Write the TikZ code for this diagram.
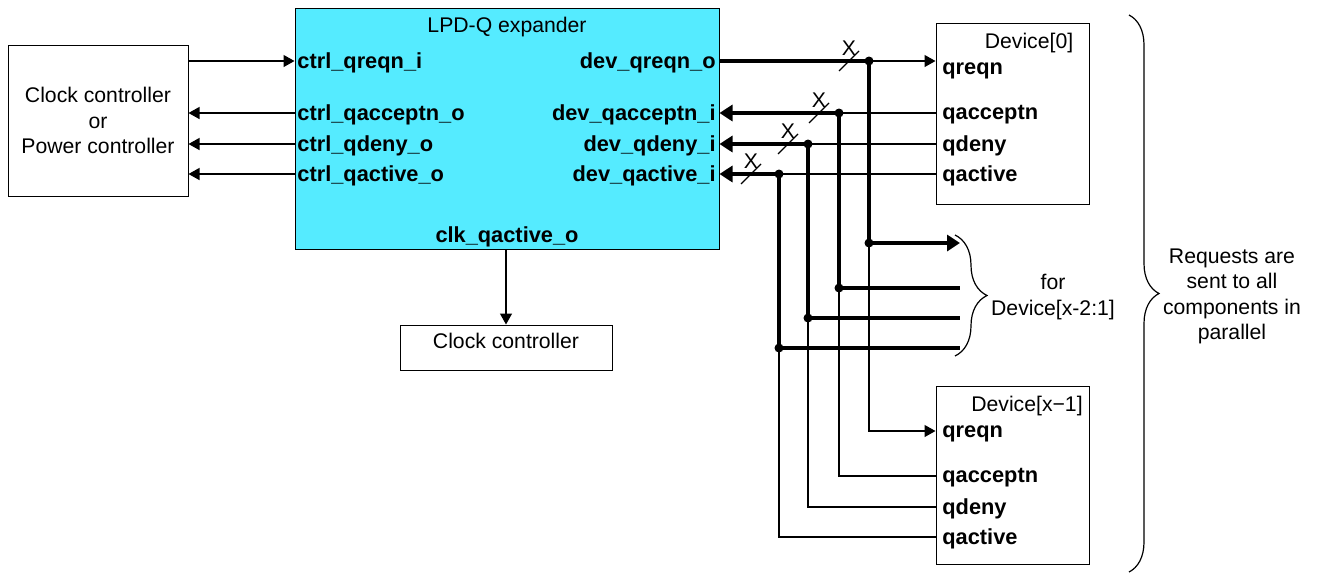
\documentclass[tikz,border=0pt]{standalone}
\usepackage{fontspec}
\setmainfont{Liberation Sans}
\usetikzlibrary{arrows.meta,calc,decorations.pathreplacing}
\definecolor{lpdcyan}{RGB}{85,235,255}

\tikzset{
	blk/.style={draw, line width=0.5pt, inner sep=0pt, align=center},
	port/.style={font=\fontsize{10.9}{13}\selectfont\bfseries, inner sep=0pt},
	wire/.style={line width=0.65pt},
	bus/.style={line width=2.2pt},
	tip/.style={-{Triangle[length=5.5pt,width=6pt]}},
	bustip/.style={-{Triangle[length=6.5pt,width=8pt]}},
	jdot/.style={circle, fill, inner sep=0pt, minimum size=4.5pt},
	brc/.style={decorate, line width=0.6pt},
}

\begin{document}
\begin{tikzpicture}[x=0.5pt, y=-0.5pt, font=\fontsize{10.6}{12.75}\selectfont]
	\useasboundingbox (0,0) rectangle (1317,574);

	% blocks
	\node[blk, minimum width=90pt, minimum height=75.5pt] (pwr) at (98,120.5) {Clock controller\\or\\Power controller};
	\node[blk, fill=lpdcyan, minimum width=212pt, minimum height=120.5pt] (lpd) at (507,128.5) {};
	\node[blk, minimum width=106pt, minimum height=22.5pt, text depth=7pt] (clk) at (506,347.5) {Clock controller};
	\node[blk, minimum width=76.5pt, minimum height=90.5pt] (dz) at (1012.5,113.5) {};
	\node[blk, minimum width=76.5pt, minimum height=89pt] (dl) at (1012.5,475) {};

	\node at (507,27) {LPD-Q expander};
	\node at (1029,43) {Device[0]};
	\node at (1027,406) {Device[x−1]};

	% expander ports
	\node[port, anchor=west] (cqreqn) at (297,63) {ctrl\_qreqn\_i};
	\node[port, anchor=west] (cqacc) at (297,115) {ctrl\_qacceptn\_o};
	\node[port, anchor=west] (cqdeny) at (297,146) {ctrl\_qdeny\_o};
	\node[port, anchor=west] (cqact) at (297,176) {ctrl\_qactive\_o};
	\node[port, anchor=east] (dqreqn) at (716,63) {dev\_qreqn\_o};
	\node[port, anchor=east] (dqacc) at (716,115) {dev\_qacceptn\_i};
	\node[port, anchor=east] (dqdeny) at (716,146) {dev\_qdeny\_i};
	\node[port, anchor=east] (dqact) at (716,176) {dev\_qactive\_i};
	\node[port] (kqact) at (507,237) {clk\_qactive\_o};

	% device ports
	\node[port, anchor=west] (zreqn) at (942,71) {qreqn};
	\node[port, anchor=west] (zacc) at (942,115) {qacceptn};
	\node[port, anchor=west] (zdeny) at (942,146) {qdeny};
	\node[port, anchor=west] (zact) at (942,176) {qactive};
	\node[port, anchor=west] (lreqn) at (942,434) {qreqn};
	\node[port, anchor=west] (lacc) at (942,478) {qacceptn};
	\node[port, anchor=west] (ldeny) at (942,509) {qdeny};
	\node[port, anchor=west] (lact) at (942,539) {qactive};

	% bus corners
	\coordinate (j1) at (869,61);  \coordinate (b1) at (869,243); \coordinate (f1) at (960,243);
	\coordinate (j2) at (839,113); \coordinate (b2) at (839,288); \coordinate (f2) at (960,288);
	\coordinate (j3) at (808,144); \coordinate (b3) at (808,318); \coordinate (f3) at (960,318);
	\coordinate (j4) at (779,174); \coordinate (b4) at (779,348); \coordinate (f4) at (960,348);
	\coordinate (k1) at (869,431); \coordinate (k2) at (839,476);
	\coordinate (k3) at (808,507); \coordinate (k4) at (779,537);

	% controller side
	\draw[wire, tip] (pwr.east |- j1) -- (lpd.west |- j1);
	\path[wire, tip]
	(lpd.west |- j2) edge (pwr.east |- j2)
	(lpd.west |- j3) edge (pwr.east |- j3)
	(lpd.west |- j4) edge (pwr.east |- j4)
	(clk.north |- lpd.south) edge (clk.north)
	;

	% thin device wires
	\draw[wire, tip] (j1) -- (dz.west |- j1);
	\draw[wire] (j2) -- (dz.west |- j2);
	\draw[wire] (j3) -- (dz.west |- j3);
	\draw[wire] (j4) -- (dz.west |- j4);
	\draw[wire, tip] (b1) -- (k1) -- (dl.west |- k1);
	\draw[wire] (b2) -- (k2) -- (dl.west |- k2);
	\draw[wire] (b3) -- (k3) -- (dl.west |- k3);
	\draw[wire] (b4) -- (k4) -- (dl.west |- k4);

	% thick bus
	\draw[bus] (lpd.east |- j1) -- (j1) -- (b1);
	\draw[bus, bustip] (b2) -- (j2) -- (lpd.east |- j2);
	\draw[bus, bustip] (b3) -- (j3) -- (lpd.east |- j3);
	\draw[bus, bustip] (b4) -- (j4) -- (lpd.east |- j4);
	\draw[bus, bustip] (b1) -- (f1);
	\path[bus]
	(b2) edge (f2)
	(b3) edge (f3)
	(b4) edge (f4)
	;
	\foreach \n in {j1,j2,j3,j4,b1,b2,b3,b4}
		\node[jdot] at (\n) {};

	% width marks
	\foreach \xx/\yy in {849/61, 819/113, 788/144, 751/174} {
		\draw[wire] (\xx,\yy) ++(-10,10) -- ++(20,-20);
		\node at (\xx,\yy-13) {X};
	}

	% braces
	\draw[brc, decoration={brace, amplitude=16pt}] (955,235) -- (955,356);
	\draw[brc, decoration={brace, amplitude=15pt}] (1129,15) -- (1129,572);
	\node[align=center] at (1053,297) {for\\Device[x-2:1]};
	\node[align=center] at (1232,296.5) {Requests are\\sent to all\\components in\\parallel};
\end{tikzpicture}
\end{document}
